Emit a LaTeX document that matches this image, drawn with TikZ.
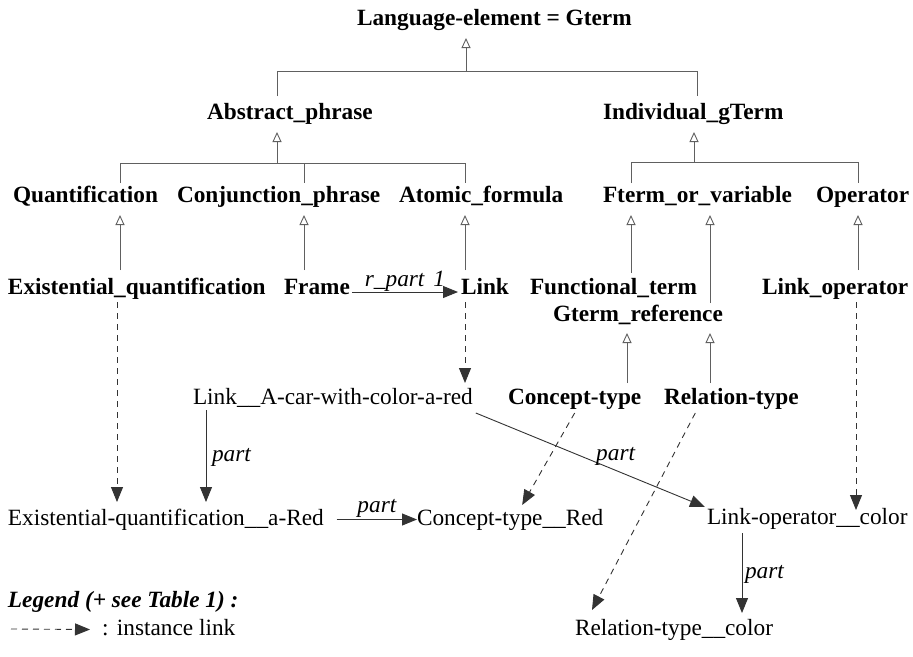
\documentclass[tikz,border=0pt]{standalone}
\usepackage{fontspec}
\setmainfont{Liberation Serif}
\usetikzlibrary{arrows.meta}
\definecolor{genc}{HTML}{606060}
\definecolor{partc}{HTML}{333333}
\begin{document}
\begin{tikzpicture}[x=1pt,y=-1pt,
  every node/.style={inner sep=0pt, outer sep=0pt, text height=17pt, text depth=6pt, anchor=base west,
    font=\fontsize{23.3pt}{28pt}\selectfont},
  cls/.style={font=\fontsize{23.3pt}{28pt}\selectfont\bfseries},
  lab/.style={font=\fontsize{23.3pt}{28pt}\selectfont\itshape},
  bar/.style={draw=genc, line width=0.9pt},
  gen/.style={bar, -{Triangle[open, length=10pt, width=9pt]}},
  part/.style={draw=partc, line width=0.9pt, -{Triangle[length=15pt, width=12pt]}},
  inst/.style={part, dash pattern=on 6pt off 5pt}]
\fill[white] (0,0) rectangle (913,656);
\useasboundingbox (0,0) rectangle (913,656);

% nodes
\node[cls] (lang) at (357,25) {Language-element = Gterm};
\node[cls] (abs) at (207,119) {Abstract\_phrase};
\node[cls] (ind) at (603,119) {Individual\_gTerm};
\node[cls] (quant) at (13,202) {Quantification};
\node[cls] (conj) at (177,202) {Conjunction\_phrase};
\node[cls] (atom) at (399,202) {Atomic\_formula};
\node[cls] (fterm) at (603,202) {Fterm\_or\_variable};
\node[cls] (oper) at (816,202) {Operator};
\node[cls] (exq) at (8,294) {Existential\_quantification};
\node[cls] (frame) at (284,294) {Frame};
\node[cls] (link) at (461,294) {Link};
\node[cls] (func) at (530,294) {Functional\_term};
\node[cls] (linkop) at (762,294) {Link\_operator};
\node[cls] (gref) at (553,321) {Gterm\_reference};
\node (lacar) at (193,404) {Link\_\_A-car-with-color-a-red};
\node[cls] (ctype) at (508,404) {Concept-type};
\node[cls] (rtype) at (664,404) {Relation-type};
\node (exr) at (8,525) {Existential-quantification\_\_a-Red};
\node (ctr) at (417,525) {Concept-type\_\_Red};
\node (lopc) at (707,524) {Link-operator\_\_color};
\node (rtc) at (575,635) {Relation-type\_\_color};
\node[font=\fontsize{23.3pt}{28pt}\selectfont\bfseries\itshape] (leg) at (8,607) {Legend (+ see Table 1) :};
\node (legtxt) at (102,635) {:\hspace{8.5pt}instance link};

% helper coordinates
\coordinate (x0) at (466,71);
\coordinate (xa) at (277,0);
\coordinate (xb) at (697,0);
\coordinate (y1) at (0,163);
\coordinate (y2) at (0,162);
\coordinate (xq) at (120,0);
\coordinate (xc) at (304,0);
\coordinate (xl) at (465,0);
\coordinate (xf) at (631,0);
\coordinate (xg) at (710,0);
\coordinate (xo) at (858,0);
\coordinate (xi) at (694,0);
\coordinate (xct) at (627,0);
\coordinate (xe) at (117,0);
\coordinate (xo2) at (856,0);
\coordinate (xp) at (206,0);
\coordinate (xr) at (742,0);
\coordinate (legs) at (11,629);

% generalization tree
\draw[bar] ([yshift=6pt]abs.north -| xa) -- (xa |- x0) -- (xb |- x0) -- ([yshift=6pt]ind.north -| xb);
\draw[gen] (x0) -- ([yshift=-7pt]lang.south -| x0);
\draw[gen] (xa |- y1) -- ([yshift=-7pt]abs.south -| xa);
\draw[bar] ([yshift=2pt]quant.north -| xq) -- (xq |- y1) -- (xl |- y1) -- ([yshift=2pt]atom.north -| xl);
\draw[bar] (xc |- y1) -- ([yshift=2pt]conj.north -| xc);
\draw[gen] (xi |- y2) -- ([yshift=-7pt]ind.south -| xi);
\draw[bar] ([yshift=2pt]fterm.north -| xf) -- (xf |- y2) -- (xo |- y2) -- ([yshift=2pt]oper.north -| xo);

\draw[gen] ([yshift=7pt]exq.north -| xq) -- ([yshift=-7pt]quant.south -| xq);
\draw[gen] ([yshift=7pt]frame.north -| xc) -- ([yshift=-7pt]conj.south -| xc);
\draw[gen] ([yshift=7pt]link.north -| xl) -- ([yshift=-7pt]atom.south -| xl);
\draw[gen] ([yshift=4pt]func.north -| xf) -- ([yshift=-7pt]fterm.south -| xf);
\draw[gen] ([yshift=1pt]gref.north -| xg) -- ([yshift=-7pt]fterm.south -| xg);
\draw[gen] ([yshift=7pt]linkop.north -| xo) -- ([yshift=-7pt]oper.south -| xo);
\draw[gen] ([yshift=4pt]ctype.north -| xct) -- ([yshift=-6pt]gref.south -| xct);
\draw[gen] ([yshift=4pt]rtype.north -| xg) -- ([yshift=-6pt]gref.south -| xg);

% instance links
\draw[inst] ([yshift=-2pt]exq.south -| xe) -- ([yshift=6pt]exr.north -| xe);
\draw[inst] ([yshift=-2pt]link.south -| xl) -- ([yshift=4pt]lacar.north -| xl);
\draw[inst] ([yshift=-2pt]linkop.south -| xo2) -- ([yshift=-3pt]lopc.north -| xo2);
\draw[inst] ([yshift=-3pt]ctype.south) -- ([xshift=12pt,yshift=3pt]ctr.north);
\draw[inst] ([xshift=-36pt,yshift=-3pt]rtype.south) -- ([xshift=-82pt,yshift=8pt]rtc.north);

% part links
\draw[part] ([xshift=2pt,yshift=-3.5pt]frame.east) -- node[lab, above] {r\_part\hspace{9pt}1} ([xshift=-3pt,yshift=-3.5pt]link.west);
\draw[part] (lacar.south -| xp) -- node[lab, right, xshift=6pt] {part} ([yshift=6pt]exr.north -| xp);
\draw[part] ([xshift=3pt,yshift=-3pt]lacar.south east) -- node[lab, pos=0.61, above, yshift=4pt] {part} ([xshift=-2pt]lopc.north west);
\draw[part] ([xshift=13pt]exr.east) -- node[lab, above, yshift=1pt] {part} (ctr.west);
\draw[part] ([yshift=-3pt]lopc.south -| xr) -- node[lab, right, xshift=3pt] {part} ([yshift=5pt]rtc.north -| xr);

% legend
\draw[inst] (legs) -- ([xshift=-12pt]legtxt.west);
\end{tikzpicture}
\end{document}
